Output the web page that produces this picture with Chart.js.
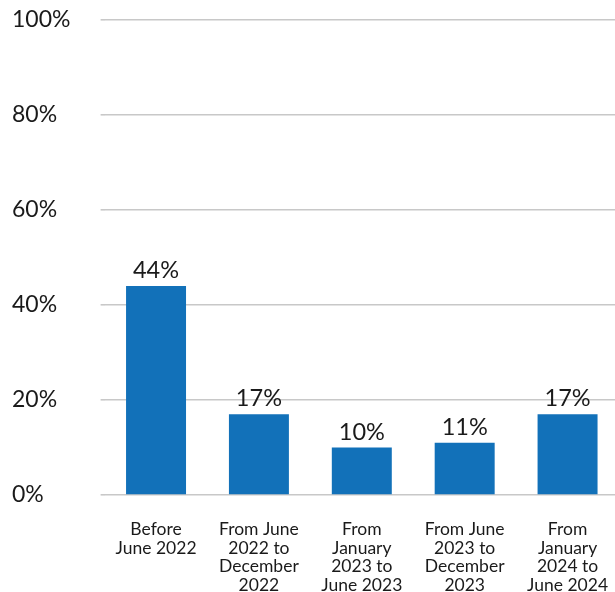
<!DOCTYPE html>
<html>
<head>
<meta charset="utf-8">
<script src="https://cdn.jsdelivr.net/npm/chart.js@4/dist/chart.umd.min.js"></script>
<style>
  html, body { margin: 0; padding: 0; background: #fff; overflow: hidden; }
  #wrap { width: 619px; height: 592px; }
</style>
</head>
<body>
<div id="wrap"><canvas id="c" width="619" height="592"></canvas></div>
<script>
// Period categories (multi-line labels)
const categories = [
  ["Before", "June 2022"],
  ["From June", "2022 to", "December", "2022"],
  ["From", "January", "2023 to", "June 2023"],
  ["From June", "2023 to", "December", "2023"],
  ["From", "January", "2024 to", "June 2024"]
];
// Share of respondents, in percent
const shares = [44, 17, 10, 11, 17];
// Y axis ticks
const yTicks = [0, 20, 40, 60, 80, 100];

const barColor = "#1271b9";
const textColor = "#1a1a1a";
const gridColor = "#c8c8c8";

// Writes each bar's percentage just above it
const valueLabels = {
  id: "valueLabels",
  afterDatasetsDraw(chart) {
    const ctx = chart.ctx;
    const meta = chart.getDatasetMeta(0);
    ctx.save();
    ctx.font = "23.5px Lato";
    ctx.fillStyle = textColor;
    ctx.textAlign = "center";
    ctx.textBaseline = "alphabetic";
    meta.data.forEach((bar, i) => {
      ctx.fillText(shares[i] + "%", bar.x, bar.y - 8);
    });
    ctx.restore();
  }
};

new Chart(document.getElementById("c"), {
  type: "bar",
  data: {
    labels: categories,
    datasets: [{
      data: shares,
      backgroundColor: barColor,
      borderWidth: 0,
      barPercentage: 0.583,
      categoryPercentage: 1
    }]
  },
  options: {
    responsive: false,
    animation: false,
    events: [],
    layout: { padding: { top: 20, right: 0, left: 12, bottom: 0 } },
    plugins: {
      legend: { display: false },
      tooltip: { enabled: false }
    },
    scales: {
      x: {
        grid: { display: false, drawTicks: false },
        border: { display: false },
        ticks: {
          color: textColor,
          font: { family: "Lato", size: 17.5, lineHeight: 1.07 },
          padding: 25,
          maxRotation: 0,
          autoSkip: false
        },
        afterFit(scale) {
          scale.height = 97;
          scale.paddingLeft = 0;
          scale.paddingRight = 0;
        }
      },
      y: {
        min: 0,
        max: 100,
        afterBuildTicks(scale) { scale.ticks = yTicks.map(v => ({ value: v })); },
        grid: { color: gridColor, lineWidth: 1.6, tickLength: 4, drawTicks: true },
        border: { display: false },
        ticks: {
          color: textColor,
          font: { family: "Lato", size: 23 },
          padding: 10,
          crossAlign: "far",
          callback: v => v + "%"
        },
        afterFit(scale) {
          scale.width = 92.6;
          scale.paddingTop = 0;
          scale.paddingBottom = 0;
        }
      }
    }
  },
  plugins: [valueLabels]
});
</script>
</body>
</html>
